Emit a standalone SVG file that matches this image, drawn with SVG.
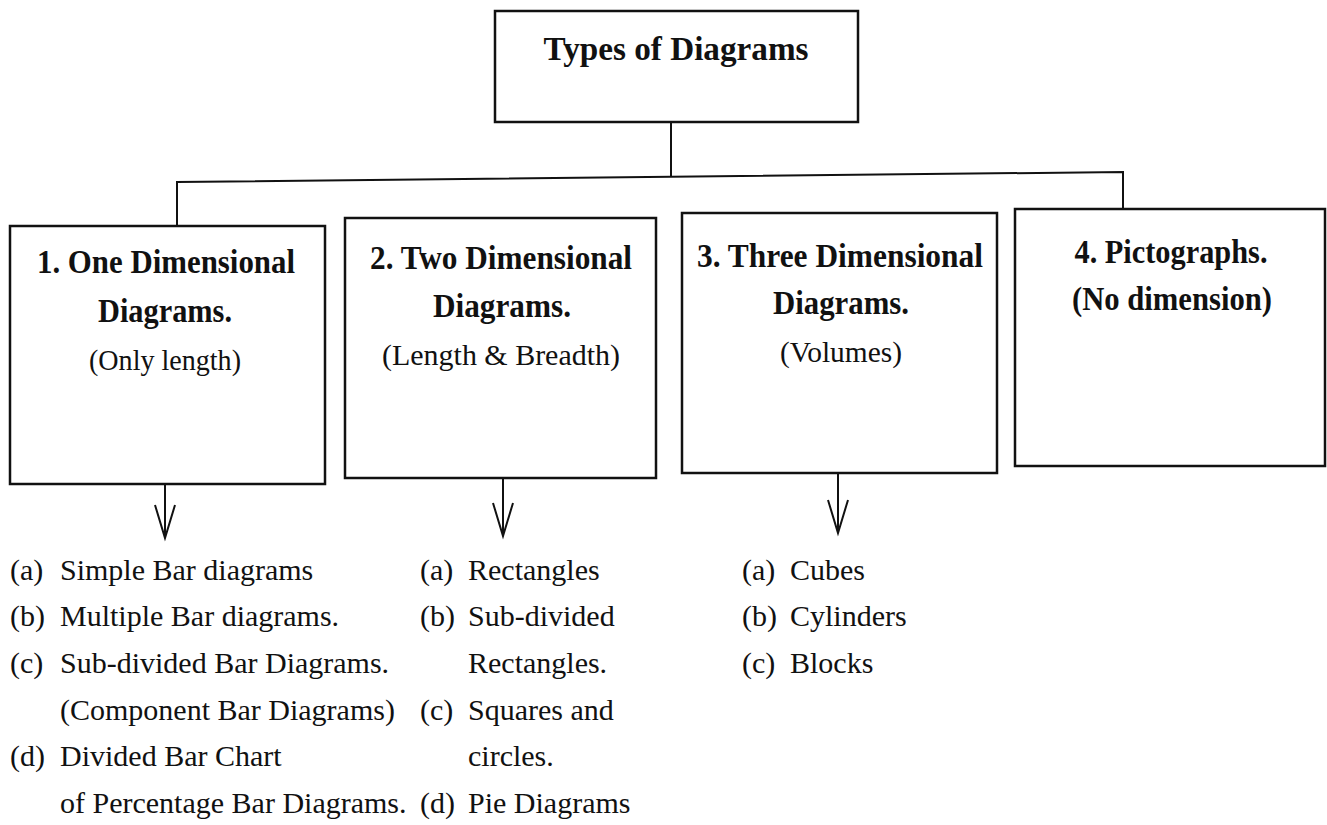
<svg xmlns="http://www.w3.org/2000/svg" width="1327" height="825" viewBox="0 0 1327 825">
<style>
.box{fill:#fff;stroke:#111;stroke-width:2.5}
.ln{fill:none;stroke:#111;stroke-width:2}
.h{font-family:"Liberation Serif","Times New Roman",serif;font-weight:bold;font-size:33px;fill:#111;text-anchor:middle}
.t{font-family:"Liberation Serif","Times New Roman",serif;font-weight:bold;font-size:34px;fill:#111;text-anchor:middle}
.s{font-family:"Liberation Serif","Times New Roman",serif;font-size:30px;fill:#111;text-anchor:middle}
.l{font-family:"Liberation Serif","Times New Roman",serif;font-size:30px;fill:#111}
</style>
<rect width="1327" height="825" fill="#fff"/>
<g id="connectors">
<path class="ln" d="M671,122 V177"/>
<path class="ln" d="M177,226 V182 L1123,172 V210"/>
<path class="ln" d="M165,484 V538 M155,505 L165,538 L175,505"/>
<path class="ln" d="M503,478 V536 M493,503 L503,536 L513,503"/>
<path class="ln" d="M838,473 V533 M828,500 L838,533 L848,500"/>
</g>
<g id="root">
<rect class="box" x="495" y="11" width="363" height="111"/>
<text class="t" x="676" y="60" textLength="265" lengthAdjust="spacingAndGlyphs">Types of Diagrams</text>
</g>
<g id="one-dim">
<rect class="box" x="10" y="226" width="315" height="258"/>
<text class="h" x="166" y="273" textLength="258" lengthAdjust="spacingAndGlyphs">1. One Dimensional</text>
<text class="h" x="165" y="322" textLength="134" lengthAdjust="spacingAndGlyphs">Diagrams.</text>
<text class="s" x="165" y="370" textLength="152" lengthAdjust="spacingAndGlyphs">(Only length)</text>
</g>
<g id="two-dim">
<rect class="box" x="345" y="218" width="311" height="260"/>
<text class="h" x="501" y="269" textLength="262" lengthAdjust="spacingAndGlyphs">2. Two Dimensional</text>
<text class="h" x="502" y="317" textLength="138" lengthAdjust="spacingAndGlyphs">Diagrams.</text>
<text class="s" x="501" y="365" textLength="238" lengthAdjust="spacingAndGlyphs">(Length &amp; Breadth)</text>
</g>
<g id="three-dim">
<rect class="box" x="682" y="213" width="315" height="260"/>
<text class="h" x="840" y="267" textLength="286" lengthAdjust="spacingAndGlyphs">3. Three Dimensional</text>
<text class="h" x="841" y="314" textLength="136" lengthAdjust="spacingAndGlyphs">Diagrams.</text>
<text class="s" x="841" y="362" textLength="122" lengthAdjust="spacingAndGlyphs">(Volumes)</text>
</g>
<g id="pictographs">
<rect class="box" x="1015" y="209" width="310" height="257"/>
<text class="h" x="1171" y="263" textLength="193" lengthAdjust="spacingAndGlyphs">4. Pictographs.</text>
<text class="h" x="1172" y="310" textLength="200" lengthAdjust="spacingAndGlyphs">(No dimension)</text>
</g>
<g id="list-one">
<text class="l" x="10" y="580">(a)</text><text class="l" x="60" y="580">Simple Bar diagrams</text>
<text class="l" x="10" y="626">(b)</text><text class="l" x="60" y="626">Multiple Bar diagrams.</text>
<text class="l" x="10" y="673">(c)</text><text class="l" x="60" y="673">Sub-divided Bar Diagrams.</text>
<text class="l" x="60" y="720">(Component Bar Diagrams)</text>
<text class="l" x="10" y="766">(d)</text><text class="l" x="60" y="766">Divided Bar Chart</text>
<text class="l" x="60" y="813">of Percentage Bar Diagrams.</text>
</g>
<g id="list-two">
<text class="l" x="420" y="580">(a)</text><text class="l" x="468" y="580">Rectangles</text>
<text class="l" x="420" y="626">(b)</text><text class="l" x="468" y="626">Sub-divided</text>
<text class="l" x="468" y="673">Rectangles.</text>
<text class="l" x="420" y="720">(c)</text><text class="l" x="468" y="720">Squares and</text>
<text class="l" x="468" y="766">circles.</text>
<text class="l" x="420" y="813">(d)</text><text class="l" x="468" y="813">Pie Diagrams</text>
</g>
<g id="list-three">
<text class="l" x="742" y="580">(a)</text><text class="l" x="790" y="580">Cubes</text>
<text class="l" x="742" y="626">(b)</text><text class="l" x="790" y="626">Cylinders</text>
<text class="l" x="742" y="673">(c)</text><text class="l" x="790" y="673">Blocks</text>
</g>
</svg>
